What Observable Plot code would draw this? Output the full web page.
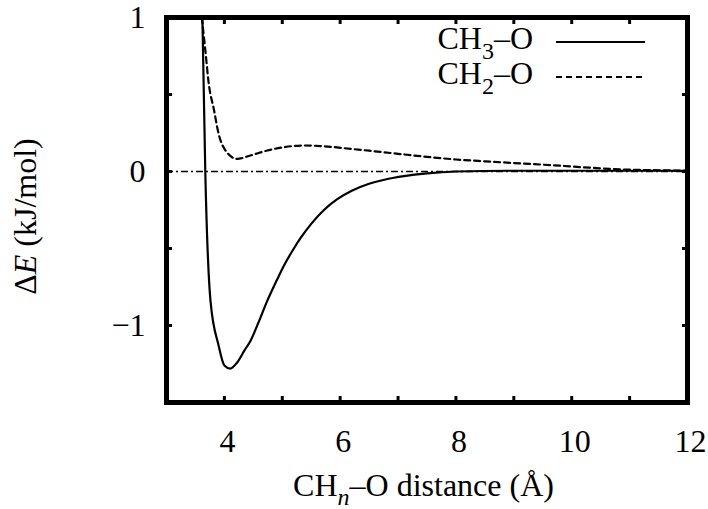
<!DOCTYPE html>
<html><head><meta charset="utf-8">
<script src="https://cdn.jsdelivr.net/npm/d3@7"></script>
<script src="https://cdn.jsdelivr.net/npm/@observablehq/plot@0.6"></script>
<style>body{margin:0;background:#fff} svg{display:block} svg text{font-family:"Liberation Serif","Times New Roman",serif}</style>
</head><body><div id="chart"></div>
<script>
// CH3–O (solid)
const ch3X = [3.62, 3.67, 3.76, 3.90, 4.00, 4.10, 4.22, 4.35, 4.45, 4.60, 4.74, 4.90, 5.03, 5.20, 5.32, 5.50, 5.72, 5.95, 6.20, 6.50, 6.80, 7.10, 7.50, 8.00, 9.00, 10.0, 11.0, 12.0];
const ch3Y = [1.0, 0.0, -0.84, -1.13, -1.26, -1.28, -1.24, -1.16, -1.10, -0.97, -0.84, -0.71, -0.61, -0.50, -0.43, -0.34, -0.25, -0.18, -0.125, -0.08, -0.05, -0.03, -0.012, 0.0, 0.005, 0.005, 0.005, 0.005];
// CH2–O (dashed)
const ch2X = [3.61, 3.67, 3.73, 3.82, 3.90, 4.02, 4.22, 4.45, 4.74, 5.03, 5.38, 5.72, 6.18, 6.5, 7.0, 7.5, 8.0, 8.5, 9.0, 9.7, 10.3, 10.9, 11.5, 12.0];
const ch2Y = [1.0, 0.79, 0.57, 0.40, 0.245, 0.136, 0.082, 0.104, 0.136, 0.158, 0.169, 0.164, 0.147, 0.135, 0.115, 0.095, 0.078, 0.066, 0.055, 0.04, 0.025, 0.013, 0.008, 0.005];

const xTickLabels = [4, 6, 8, 10, 12];
const xTickMarks = [4, 5, 6, 7, 8, 9, 10, 11];
const yTickLabels = [-1, 0, 1];
const yTickMarks = [-1, -0.5, 0, 0.5];
const zeroLine = [0];
const xDomain = [3, 12];
const yDomain = [-1.5, 1];

const ch3 = ch3X.map((x, i) => ({x, y: ch3Y[i]}));
const ch2 = ch2X.map((x, i) => ({x, y: ch2Y[i]}));

const font = "Liberation Serif, Times New Roman, serif";
const fs = 32;
const W = 708, H = 509, mL = 166, mR = 21, mT = 17, mB = 107;

const plot = Plot.plot({
  width: W, height: H,
  marginLeft: mL, marginRight: mR, marginTop: mT, marginBottom: mB,
  style: {"font-family": font, "font-size": fs + "px", background: "#fff", color: "#000"},
  x: {domain: xDomain},
  y: {domain: yDomain},
  marks: [
    Plot.ruleY(zeroLine, {stroke: "#000", strokeWidth: 1.4, strokeDasharray: "7,3,2,3"}),
    Plot.line(ch3, {x: "x", y: "y", stroke: "#000", strokeWidth: 2.2, curve: "monotone-x", clip: true}),
    Plot.line(ch2, {x: "x", y: "y", stroke: "#000", strokeWidth: 2.2, strokeDasharray: "6,4", curve: "monotone-x", clip: true}),
    Plot.axisX(xTickMarks, {anchor: "bottom", tickSize: -6, strokeWidth: 3, tickFormat: () => "", label: null}),
    Plot.axisX(xTickMarks, {anchor: "top", tickSize: -6, strokeWidth: 3, tickFormat: () => "", label: null}),
    Plot.axisY(yTickMarks, {anchor: "left", tickSize: -6, strokeWidth: 3, tickFormat: () => "", label: null}),
    Plot.axisY(yTickMarks, {anchor: "right", tickSize: -6, strokeWidth: 3, tickFormat: () => "", label: null}),
    Plot.axisX(xTickLabels, {anchor: "bottom", tickSize: 0, tickPadding: 27, dx: 3, fontSize: fs, fontFamily: font, label: null, tickFormat: d => String(d)}),
    Plot.axisY(yTickLabels, {anchor: "left", tickSize: 0, tickPadding: 21, fontSize: fs, fontFamily: font, label: null, tickFormat: d => d < 0 ? "\u2212" + Math.abs(d) : String(d)}),
    Plot.frame({stroke: "#000", strokeWidth: 5})
  ]
});
document.getElementById("chart").appendChild(plot);

const svg = d3.select(plot).attr("font-family", font);
// Y axis title
const yt = svg.append("text")
  .attr("transform", `translate(36,${(mT + H - mB) / 2 + 7}) rotate(-90)`)
  .attr("text-anchor", "middle")
  .attr("font-family", font).attr("font-size", fs).attr("fill", "#000");
yt.append("tspan").text("\u0394");
yt.append("tspan").attr("font-style", "italic").text("E");
yt.append("tspan").text(" (kJ/mol)");

// X axis title
const xt = svg.append("text")
  .attr("x", (mL + W - mR) / 2 - 3).attr("y", 496)
  .attr("text-anchor", "middle")
  .attr("font-family", font).attr("font-size", fs).attr("fill", "#000");
xt.append("tspan").text("CH");
xt.append("tspan").attr("font-style", "italic").attr("font-size", 24).attr("dy", 9).text("n");
xt.append("tspan").attr("dy", -9).text("\u2013O distance (\u00C5)");

// Legend
const legend = [
  {name: "CH", sub: "3", rest: "\u2013O", dash: null, y: 49},
  {name: "CH", sub: "2", rest: "\u2013O", dash: "6,4", y: 84}
];
legend.forEach(d => {
  const t = svg.append("text")
    .attr("x", 533).attr("y", d.y).attr("text-anchor", "end")
    .attr("font-family", font).attr("font-size", fs).attr("fill", "#000");
  t.append("tspan").text(d.name);
  t.append("tspan").attr("font-size", 24).attr("dy", 10).text(d.sub);
  t.append("tspan").attr("dy", -10).text(d.rest);
  svg.append("line")
    .attr("x1", 556).attr("x2", 645).attr("y1", d.y - 7).attr("y2", d.y - 7)
    .attr("stroke", "#000").attr("stroke-width", 2.2)
    .attr("stroke-dasharray", d.dash);
});
</script>
</body></html>
